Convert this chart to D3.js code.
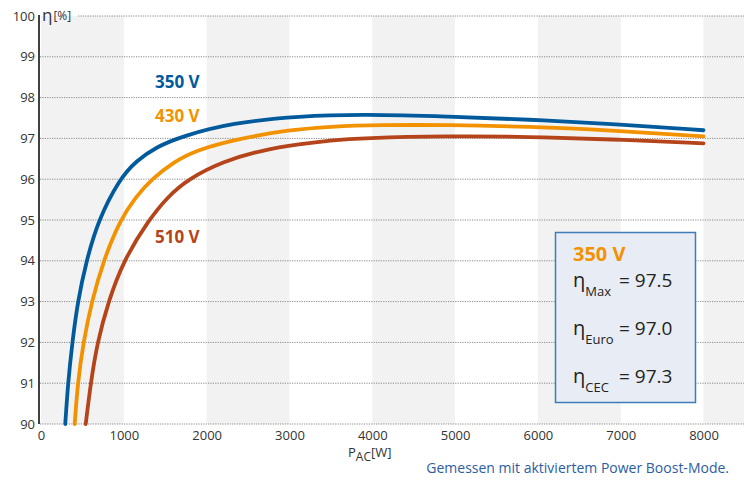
<!DOCTYPE html>
<html>
<head>
<meta charset="utf-8">
<script src="https://cdn.jsdelivr.net/npm/d3@7"></script>
<style>
  body { margin: 0; background: #fff; }
  text { font-family: "Open Sans", "Noto Sans", sans-serif; }
</style>
</head>
<body>
<div id="chart"></div>
<script>
var xTicks = [0, 1000, 2000, 3000, 4000, 5000, 6000, 7000, 8000];
var yTicks = [90, 91, 92, 93, 94, 95, 96, 97, 98, 99, 100];
var bandStarts = [0, 2000, 4000, 6000, 8000];

var p350 = [293, 326, 378, 443, 548, 692, 946, 1150, 1400, 1700, 2300, 3128, 3900, 4900, 5900, 6860, 8000];
var eta350 = [90, 91, 92, 93, 94, 95, 96, 96.45, 96.8, 97.05, 97.38, 97.55, 97.59, 97.54, 97.46, 97.36, 97.2];

var p430 = [407, 443, 511, 612, 753, 954, 1150, 1337, 1600, 1880, 2403, 3000, 3490, 4090, 4900, 5900, 6860, 8000];
var eta430 = [90, 91, 92, 93, 94, 95, 95.58, 96, 96.42, 96.72, 97, 97.21, 97.29, 97.33, 97.33, 97.29, 97.2, 97.05];

var p510 = [540, 600, 680, 813, 994, 1300, 1530, 1775, 2200, 2681, 3128, 3490, 3889, 4900, 5900, 6860, 8000];
var eta510 = [90, 91, 92, 93, 94, 95, 95.57, 96, 96.44, 96.72, 96.86, 96.95, 97.01, 97.06, 97.04, 96.98, 96.88];

var seriesNames = ["350 V", "430 V", "510 V"];
var seriesColors = ["#005a9c", "#f39200", "#b5441a"];

var boxTitle = "350 V";
var boxLabels = ["Max", "Euro", "CEC"];
var boxValues = ["97.5", "97.0", "97.3"];

var width = 744, height = 481;

var x = d3.scaleLinear().domain([0, 8000]).range([41, 703.5]);
var y = d3.scaleLinear().domain([90, 100]).range([424, 16]);
var xMax = x.invert(width);

var svg = d3
  .select("#chart")
  .append("svg")
  .attr("width", width)
  .attr("height", height);

// grey bands every other 1000 W
svg
  .selectAll(".band")
  .data(bandStarts)
  .enter()
  .append("rect")
  .attr("x", function (d) { return x(d); })
  .attr("y", y(100))
  .attr("width", function (d) { return x(Math.min(d + 1000, xMax)) - x(d); })
  .attr("height", y(90) - y(100))
  .attr("fill", "#f2f2f2");

// dotted grid
svg
  .selectAll(".grid")
  .data(yTicks)
  .enter()
  .append("line")
  .attr("x1", function (d) { return d == 100 ? 78 : 40; })
  .attr("x2", width)
  .attr("y1", function (d) { return y(d); })
  .attr("y2", function (d) { return y(d); })
  .attr("stroke", "#8a8a8a")
  .attr("stroke-width", 1)
  .attr("stroke-dasharray", "1.2,1.2");

// left axis
svg
  .append("line")
  .attr("x1", 39)
  .attr("x2", 39)
  .attr("y1", y(100) - 1)
  .attr("y2", y(90))
  .attr("stroke", "#111")
  .attr("stroke-width", 1.6);

svg
  .append("g")
  .attr("transform", "translate(35,0)")
  .call(d3.axisLeft(y).tickValues(yTicks).tickSize(0).tickPadding(0))
  .call(function (g) { g.select(".domain").remove(); })
  .selectAll("text")
  .attr("font-size", 13)
  .attr("fill", "#333")
  .style("font-family", "'Open Sans', sans-serif");

svg
  .append("g")
  .attr("transform", "translate(0," + y(90) + ")")
  .call(d3.axisBottom(x).tickValues(xTicks).tickSize(0).tickPadding(7).tickFormat(d3.format("d")))
  .call(function (g) { g.select(".domain").remove(); })
  .selectAll("text")
  .attr("font-size", 13)
  .attr("fill", "#333")
  .style("font-family", "'Open Sans', sans-serif");

// axis titles
var yt = svg.append("text").attr("x", 42).attr("y", 21).attr("fill", "#333");
yt.append("tspan").attr("font-size", 17).text("η");
yt.append("tspan").attr("font-size", 12).attr("dx", 1).attr("dy", -1).text("[%]");

var xt = svg.append("text").attr("x", 348).attr("y", 457).attr("fill", "#333");
xt.append("tspan").attr("font-size", 13).text("P");
xt.append("tspan").attr("font-size", 12).attr("dy", 4).text("AC");
xt.append("tspan").attr("font-size", 13).attr("dy", -4).text("[W]");

// curves
var line = d3
  .line()
  .x(function (d) { return x(d[0]); })
  .y(function (d) { return y(d[1]); })
  .curve(d3.curveBasis);

var allSeries = [
  d3.zip(p350, eta350),
  d3.zip(p430, eta430),
  d3.zip(p510, eta510),
];

svg
  .selectAll(".curve")
  .data(allSeries)
  .enter()
  .append("path")
  .attr("fill", "none")
  .attr("stroke", function (d, i) { return seriesColors[i]; })
  .attr("stroke-width", 3.8)
  .attr("stroke-linecap", "round")
  .attr("d", line);

// series labels
var labelY = [88, 122, 243];
svg
  .selectAll(".slabel")
  .data(seriesNames)
  .enter()
  .append("text")
  .attr("x", 155)
  .attr("y", function (d, i) { return labelY[i]; })
  .attr("font-size", 17)
  .attr("font-weight", "bold")
  .attr("fill", function (d, i) { return seriesColors[i]; })
  .text(function (d) { return d; });

// info box
svg
  .append("rect")
  .attr("x", 555.5)
  .attr("y", 232.5)
  .attr("width", 140)
  .attr("height", 170)
  .attr("fill", "#e8ecf5")
  .attr("stroke", "#3f7db8")
  .attr("stroke-width", 1.5);

svg
  .append("text")
  .attr("x", 573)
  .attr("y", 261)
  .attr("font-size", 20)
  .attr("font-weight", "bold")
  .attr("fill", seriesColors[1])
  .text(boxTitle);

var rows = svg
  .selectAll(".brow")
  .data(boxLabels)
  .enter()
  .append("text")
  .attr("y", function (d, i) { return 287 + i * 48; })
  .attr("fill", "#222");

rows.append("tspan").attr("x", 573).attr("font-size", 20).text("η");
rows
  .append("tspan")
  .attr("font-size", 13)
  .attr("dy", 9)
  .text(function (d) { return d; });
rows
  .append("tspan")
  .attr("x", 619)
  .attr("dy", -9)
  .attr("font-size", 19)
  .text(function (d, i) { return "= " + boxValues[i]; });

// footnote
svg
  .append("text")
  .attr("x", 729)
  .attr("y", 473)
  .attr("text-anchor", "end")
  .attr("font-size", 14)
  .attr("fill", "#2c5d9f")
  .text("Gemessen mit aktiviertem Power Boost-Mode.");
</script>
</body>
</html>
